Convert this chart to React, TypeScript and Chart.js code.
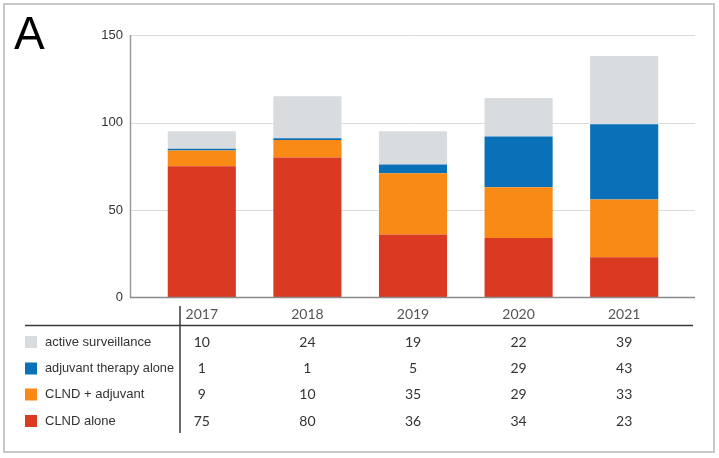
import React, { useEffect, useRef } from "react";
import { Chart, registerables } from "chart.js";

Chart.register(...registerables);

const years = ["2017", "2018", "2019", "2020", "2021"];
const clndAlone = [75, 80, 36, 34, 23];
const clndAdjuvant = [9, 10, 35, 29, 33];
const adjuvantAlone = [1, 1, 5, 29, 43];
const activeSurveillance = [10, 24, 19, 22, 39];
const yTickValues = [0, 50, 100, 150];

const seriesNames = ["CLND alone", "CLND + adjuvant", "adjuvant therapy alone", "active surveillance"];
const seriesColors = ["#db3a22", "#f98a16", "#0a71b8", "#d8dcdf"];
const seriesValues = [clndAlone, clndAdjuvant, adjuvantAlone, activeSurveillance];

const W = 719;
const H = 458;

const overlayPlugin = {
  id: "overlay",
  beforeDatasetsDraw(chart: any) {
    const ctx = chart.ctx;
    const y = chart.scales.y;
    ctx.save();
    ctx.strokeStyle = "#dcdcdc";
    ctx.lineWidth = 1;
    yTickValues.forEach((v) => {
      if (v === 0) return;
      const py = Math.round(y.getPixelForValue(v)) + 0.5;
      ctx.beginPath();
      ctx.moveTo(130, py);
      ctx.lineTo(695, py);
      ctx.stroke();
    });
    ctx.strokeStyle = "#9a9a9a";
    ctx.lineWidth = 1.5;
    ctx.beginPath();
    ctx.moveTo(130.5, y.getPixelForValue(150));
    ctx.lineTo(130.5, y.getPixelForValue(0));
    ctx.stroke();
    ctx.restore();
  },
  afterDatasetsDraw(chart: any) {
    const ctx = chart.ctx;
    const y = chart.scales.y;
    ctx.save();
    ctx.strokeStyle = "#8a8a8a";
    ctx.lineWidth = 1.5;
    const py = y.getPixelForValue(0);
    ctx.beginPath();
    ctx.moveTo(130, py);
    ctx.lineTo(695, py);
    ctx.stroke();
    ctx.restore();
  },
  afterDraw(chart: any) {
    const ctx = chart.ctx;
    const x = chart.scales.x;
    ctx.save();
    // frame
    ctx.strokeStyle = "#c8c8c8";
    ctx.lineWidth = 2;
    ctx.strokeRect(4, 4, 710, 448);
    // panel letter
    ctx.fillStyle = "#000";
    ctx.font = '46px "Liberation Sans", Arial, sans-serif';
    ctx.textAlign = "left";
    ctx.textBaseline = "alphabetic";
    ctx.fillText("A", 14, 49);
    // table lines
    ctx.strokeStyle = "#3a3a3a";
    ctx.lineWidth = 1.5;
    ctx.beginPath();
    ctx.moveTo(25, 325.5);
    ctx.lineTo(693, 325.5);
    ctx.stroke();
    ctx.beginPath();
    ctx.moveTo(180, 306);
    ctx.lineTo(180, 433);
    ctx.stroke();
    // header
    ctx.textAlign = "center";
    ctx.textBaseline = "middle";
    ctx.font = '14px Lato, "Open Sans", sans-serif';
    ctx.fillStyle = "#555";
    years.forEach((yr, i) => {
      ctx.fillText(yr, x.getPixelForValue(i), 314);
    });
    // rows (top series first)
    const rowY = [342, 368.5, 394.5, 421];
    const order = [3, 2, 1, 0];
    order.forEach((si, r) => {
      const ry = rowY[r];
      ctx.fillStyle = seriesColors[si];
      ctx.fillRect(25, ry - 6, 12, 12);
      ctx.fillStyle = "#333";
      ctx.textAlign = "left";
      ctx.font = '13px "Liberation Sans", Arial, sans-serif';
      ctx.fillText(seriesNames[si], 45, ry, 129);
      ctx.textAlign = "center";
      ctx.font = '14px Lato, "Open Sans", sans-serif';
      ctx.fillStyle = "#333";
      seriesValues[si].forEach((v, i) => {
        ctx.fillText(String(v), x.getPixelForValue(i), ry);
      });
    });
    ctx.restore();
  },
};

export default function App() {
  const canvasRef = useRef<HTMLCanvasElement | null>(null);

  useEffect(() => {
    const canvas = canvasRef.current;
    if (!canvas) return;
    const chart = new Chart(canvas, {
      type: "bar",
      data: {
        labels: years,
        datasets: seriesNames.map((name, i) => ({
          label: name,
          data: seriesValues[i],
          backgroundColor: seriesColors[i],
          borderWidth: 0,
          categoryPercentage: 1,
          barPercentage: 0.645,
        })),
      },
      options: {
        responsive: false,
        animation: false,
        devicePixelRatio: 1,
        layout: { padding: { left: 0, right: 42, top: 35, bottom: 160.5 } },
        plugins: {
          legend: { display: false },
          tooltip: { enabled: false },
          title: { display: false },
        },
        scales: {
          x: {
            type: "category",
            stacked: true,
            display: false,
            offset: true,
          },
          y: {
            stacked: true,
            min: 0,
            max: 150,
            border: { display: false },
            grid: { display: false, drawTicks: false },
            afterFit: (scale: any) => {
              scale.width = 149;
            },
            afterBuildTicks: (scale: any) => {
              scale.ticks = yTickValues.map((v) => ({ value: v }));
            },
            ticks: {
              padding: 26,
              color: "#333",
              font: { family: '"Liberation Sans", Arial, sans-serif', size: 13 },
            },
          },
        },
      },
      plugins: [overlayPlugin],
    } as any);
    return () => chart.destroy();
  }, []);

  return (
    <div style={{ position: "absolute", left: 0, top: 0, width: W, height: H, background: "#fff" }}>
      <canvas ref={canvasRef} width={W} height={H} style={{ width: W, height: H, display: "block" }} />
    </div>
  );
}
